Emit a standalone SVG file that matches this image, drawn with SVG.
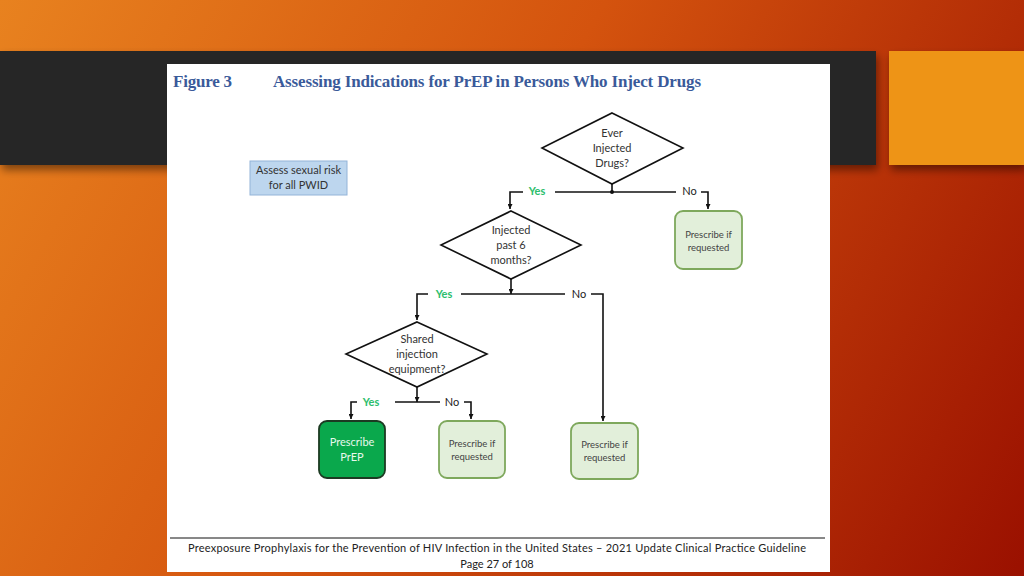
<svg xmlns="http://www.w3.org/2000/svg" width="1024" height="576" viewBox="0 0 1024 576">
  <defs>
    <linearGradient id="bg" x1="0" y1="0" x2="1024" y2="576" gradientUnits="userSpaceOnUse">
      <stop offset="0" stop-color="#E8821F"/>
      <stop offset="0.45" stop-color="#D4530E"/>
      <stop offset="1" stop-color="#9A1000"/>
    </linearGradient>
    <filter id="sh" x="-10%" y="-10%" width="120%" height="140%">
      <feGaussianBlur in="SourceAlpha" stdDeviation="4"/>
      <feOffset dx="2" dy="5"/>
      <feComponentTransfer><feFuncA type="linear" slope="0.45"/></feComponentTransfer>
      <feMerge><feMergeNode/><feMergeNode in="SourceGraphic"/></feMerge>
    </filter>
    <marker id="arr" viewBox="0 0 10 10" refX="10" refY="5" markerWidth="5" markerHeight="5" orient="auto" markerUnits="userSpaceOnUse">
      <path d="M0,0 L10,5 L0,10 z" fill="#111"/>
    </marker>
    <style>
      .title{font-family:"Liberation Serif",serif;font-weight:bold;font-size:17px;fill:#3A5A9A}
      .t{font-family:Lato,"Liberation Sans",sans-serif;font-size:11px;fill:#333;text-anchor:middle}
      .ts{font-family:Lato,"Liberation Sans",sans-serif;font-size:9.5px;fill:#444;text-anchor:middle}
      .yes{font-family:Lato,"Liberation Sans",sans-serif;font-size:11px;font-weight:bold;fill:#2DBE6C;text-anchor:middle}
      .no{font-family:Lato,"Liberation Sans",sans-serif;font-size:11px;fill:#222;text-anchor:middle}
      .dia{fill:#fff;stroke:#111;stroke-width:1.6}
      .req{fill:#E2EFDA;stroke:#7EA85C;stroke-width:1.8}
      .ln{fill:none;stroke:#111;stroke-width:1.6}
      .foot{font-family:Lato,"Liberation Sans",sans-serif;font-size:11px;fill:#222;text-anchor:middle}
    </style>
  </defs>

  <rect x="0" y="0" width="1024" height="576" fill="url(#bg)"/>
  <rect x="0" y="51" width="876" height="114" fill="#262626" filter="url(#sh)"/>
  <rect x="889" y="51" width="135" height="114" fill="#EE9419" filter="url(#sh)"/>
  <rect x="167" y="64" width="663" height="508" fill="#ffffff"/>

  <text class="title" x="173" y="87" textLength="59">Figure 3</text>
  <text class="title" x="273" y="87" textLength="428">Assessing Indications for PrEP in Persons Who Inject Drugs</text>

  <g id="assess">
    <rect x="250" y="161" width="97" height="34" fill="#BDD6EE" stroke="#93B4D8" stroke-width="1"/>
    <text class="t" x="298.5" y="174">Assess sexual risk</text>
    <text class="t" x="298.5" y="189">for all PWID</text>
  </g>

  <g id="q1">
    <polygon class="dia" points="612,113 683,148 612,184 542,148"/>
    <text class="t" x="612" y="137">Ever</text>
    <text class="t" x="612" y="152">Injected</text>
    <text class="t" x="612" y="167">Drugs?</text>
  </g>

  <g id="q2">
    <polygon class="dia" points="511,211 581,245 511,279 441,245"/>
    <text class="t" x="511" y="234">Injected</text>
    <text class="t" x="511" y="249">past 6</text>
    <text class="t" x="511" y="264">months?</text>
  </g>

  <g id="q3">
    <polygon class="dia" points="417,322 487,354 417,387 346,354"/>
    <text class="t" x="417" y="343">Shared</text>
    <text class="t" x="417" y="358">injection</text>
    <text class="t" x="417" y="373">equipment?</text>
  </g>

  <g id="r1">
    <rect class="req" x="675" y="211" width="67" height="58" rx="8"/>
    <text class="ts" x="708.5" y="238">Prescribe if</text>
    <text class="ts" x="708.5" y="251">requested</text>
  </g>

  <g id="prep">
    <rect x="319" y="421" width="66" height="57" rx="8" fill="#0AA84C" stroke="#1C3A22" stroke-width="1.8"/>
    <text class="t" x="352" y="446" style="fill:#E8F8EC">Prescribe</text>
    <text class="t" x="352" y="461" style="fill:#E8F8EC">PrEP</text>
  </g>

  <g id="r2">
    <rect class="req" x="439" y="421" width="66" height="57" rx="8"/>
    <text class="ts" x="472" y="447">Prescribe if</text>
    <text class="ts" x="472" y="460">requested</text>
  </g>

  <g id="r3">
    <rect class="req" x="571" y="423" width="67" height="56" rx="8"/>
    <text class="ts" x="604.5" y="448">Prescribe if</text>
    <text class="ts" x="604.5" y="461">requested</text>
  </g>

  <g id="connectors">
    <!-- Q1 -->
    <line class="ln" x1="612" y1="184" x2="612" y2="192"/>
    <circle cx="612" cy="192" r="2" fill="#111"/>
    <line class="ln" x1="555" y1="192" x2="676" y2="192"/>
    <polyline class="ln" points="523,192 510,192 510,209" marker-end="url(#arr)"/>
    <polyline class="ln" points="701,192 708,192 708,209" marker-end="url(#arr)"/>
    <!-- Q2 -->
    <line class="ln" x1="511" y1="279" x2="511" y2="294" marker-end="url(#arr)"/>
    <line class="ln" x1="461" y1="294" x2="565" y2="294"/>
    <polyline class="ln" points="428,294 417,294 417,320" marker-end="url(#arr)"/>
    <polyline class="ln" points="591,294 603,294 603,421" marker-end="url(#arr)"/>
    <!-- Q3 -->
    <line class="ln" x1="417" y1="387" x2="417" y2="402" marker-end="url(#arr)"/>
    <line class="ln" x1="395" y1="402" x2="440" y2="402"/>
    <polyline class="ln" points="357,402 351,402 351,419" marker-end="url(#arr)"/>
    <polyline class="ln" points="464,402 471,402 471,419" marker-end="url(#arr)"/>
    <!-- labels -->
    <text class="yes" x="537" y="195">Yes</text>
    <text class="no" x="689.5" y="195">No</text>
    <text class="yes" x="444" y="298">Yes</text>
    <text class="no" x="579" y="298">No</text>
    <text class="yes" x="371" y="406">Yes</text>
    <text class="no" x="452" y="406">No</text>
  </g>

  <line x1="170" y1="538" x2="825" y2="538" stroke="#111" stroke-width="1"/>
  <text class="foot" x="497" y="552" textLength="618">Preexposure Prophylaxis for the Prevention of HIV Infection in the United States – 2021 Update Clinical Practice Guideline</text>
  <text class="foot" x="497" y="568">Page 27 of 108</text>
</svg>
